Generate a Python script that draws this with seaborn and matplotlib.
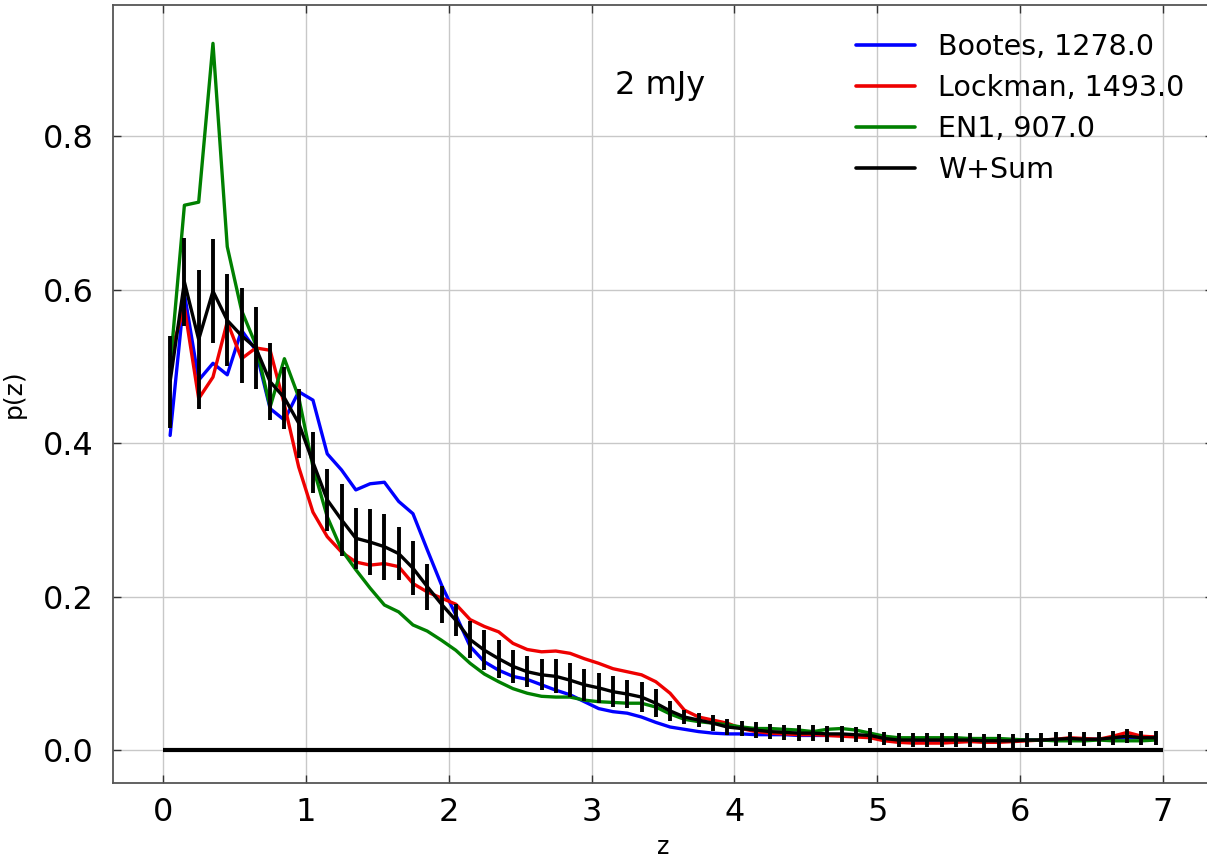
import numpy as np
import pandas as pd
import matplotlib
matplotlib.use("Agg")
import matplotlib.pyplot as plt
import seaborn as sns
from matplotlib.lines import Line2D

# Redshift bin centres (dz = 0.1)
z = np.round(np.arange(0.05, 7.0, 0.1), 2)

bootes = [0.41, 0.595, 0.482, 0.504, 0.489, 0.547, 0.521, 0.445, 0.43, 0.467,
          0.456, 0.386, 0.365, 0.339, 0.347, 0.349, 0.324, 0.308, 0.261, 0.215,
          0.176, 0.135, 0.115, 0.104, 0.096, 0.092, 0.085, 0.078, 0.072, 0.063,
          0.054, 0.050, 0.048, 0.043, 0.036, 0.030, 0.027, 0.024, 0.022, 0.021,
          0.021, 0.020, 0.020, 0.020, 0.019, 0.019, 0.019, 0.019, 0.018, 0.018,
          0.014, 0.013, 0.013, 0.012, 0.012, 0.012, 0.012, 0.012, 0.012, 0.012,
          0.013, 0.013, 0.013, 0.014, 0.014, 0.014, 0.015, 0.016, 0.016, 0.017]

lockman = [0.515, 0.577, 0.458, 0.486, 0.558, 0.51, 0.524, 0.521, 0.45, 0.369,
           0.31, 0.278, 0.258, 0.245, 0.241, 0.243, 0.239, 0.217, 0.206, 0.198,
           0.19, 0.170, 0.161, 0.154, 0.139, 0.131, 0.128, 0.129, 0.126, 0.119,
           0.113, 0.106, 0.102, 0.098, 0.089, 0.074, 0.052, 0.043, 0.039, 0.035,
           0.028, 0.024, 0.022, 0.021, 0.020, 0.020, 0.019, 0.018, 0.017, 0.016,
           0.012, 0.010, 0.009, 0.009, 0.009, 0.010, 0.011, 0.010, 0.010, 0.011,
           0.012, 0.013, 0.014, 0.016, 0.015, 0.014, 0.018, 0.023, 0.018, 0.017]

en1 = [0.499, 0.71, 0.714, 0.921, 0.656, 0.573, 0.528, 0.447, 0.51, 0.46,
       0.369, 0.304, 0.261, 0.235, 0.211, 0.189, 0.18, 0.163, 0.155, 0.143,
       0.13, 0.113, 0.099, 0.089, 0.080, 0.074, 0.070, 0.069, 0.069, 0.065,
       0.063, 0.062, 0.061, 0.061, 0.056, 0.047, 0.040, 0.037, 0.035, 0.033,
       0.030, 0.028, 0.028, 0.027, 0.026, 0.024, 0.027, 0.028, 0.026, 0.022,
       0.018, 0.016, 0.016, 0.016, 0.016, 0.016, 0.015, 0.015, 0.015, 0.014,
       0.013, 0.013, 0.012, 0.012, 0.012, 0.013, 0.012, 0.012, 0.012, 0.013]

wsum = [0.48, 0.61, 0.535, 0.598, 0.56, 0.54, 0.524, 0.48, 0.459, 0.426,
        0.375, 0.326, 0.30, 0.276, 0.271, 0.265, 0.256, 0.237, 0.213, 0.19,
        0.169, 0.144, 0.13, 0.119, 0.109, 0.102, 0.098, 0.096, 0.091, 0.085,
        0.081, 0.076, 0.073, 0.069, 0.061, 0.051, 0.043, 0.039, 0.035, 0.030,
        0.028, 0.026, 0.024, 0.023, 0.022, 0.022, 0.021, 0.021, 0.020, 0.019,
        0.015, 0.013, 0.013, 0.013, 0.013, 0.013, 0.013, 0.012, 0.012, 0.012,
        0.013, 0.013, 0.014, 0.015, 0.014, 0.014, 0.016, 0.018, 0.016, 0.016]

wsum_err = [0.06, 0.057, 0.09, 0.068, 0.06, 0.062, 0.053, 0.05, 0.04, 0.045,
            0.04, 0.04, 0.047, 0.04, 0.043, 0.043, 0.035, 0.035, 0.03, 0.024,
            0.021, 0.024, 0.026, 0.025, 0.022, 0.02, 0.02, 0.022, 0.022, 0.021,
            0.02, 0.02, 0.018, 0.019, 0.018, 0.013, 0.009, 0.009, 0.01, 0.01,
            0.01, 0.01, 0.01, 0.01, 0.01, 0.01, 0.01, 0.01, 0.01, 0.01,
            0.009, 0.009, 0.009, 0.009, 0.009, 0.009, 0.009, 0.009, 0.009, 0.009,
            0.009, 0.009, 0.009, 0.009, 0.009, 0.009, 0.009, 0.009, 0.009, 0.009]

fields = ["Bootes, 1278.0", "Lockman, 1493.0", "EN1, 907.0"]
colors = ["#0000ff", "#ee0000", "#008000"]
z_range = [0.0, 7.0]

df = pd.DataFrame({
    "z": np.concatenate([z, z, z]),
    "p": np.concatenate([bootes, lockman, en1]),
    "field": np.repeat(fields, len(z)),
})

sns.set_theme(style="whitegrid")
plt.rcParams["font.family"] = ["DejaVu Sans"]

fig = plt.figure(figsize=(12.07, 8.58), dpi=100)
ax = fig.add_axes([0.0936, 0.0874, 0.9113, 0.9068])

sns.lineplot(data=df, x="z", y="p", hue="field", hue_order=fields,
             palette=colors, linewidth=2.4, ax=ax, legend=False, sort=False)

ax.errorbar(z, wsum, yerr=wsum_err, color="black", linewidth=2.4,
            elinewidth=2.8, capsize=0, zorder=5)

ax.hlines(0, z_range[0], z_range[1], color="black", linewidth=3, zorder=6)

ax.set_xlim(-0.35, 7.35)
ax.set_ylim(-0.043, 0.971)
ax.set_xticks(range(0, 8))
ax.set_yticks([0.0, 0.2, 0.4, 0.6, 0.8])
ax.set_yticklabels(["0.0", "0.2", "0.4", "0.6", "0.8"])

ax.set_xlabel("z", fontsize=17, labelpad=5, color="black")
ax.set_ylabel("p(z)", fontsize=18, labelpad=12, color="black")

ax.tick_params(axis="both", which="major", direction="in", length=6, width=1,
               labelsize=23, top=True, right=True, bottom=True, left=True,
               color="#333333", labelcolor="black", pad=10)
ax.tick_params(axis="y", pad=14)
ax.grid(True, color="#c8c8c8", linewidth=1.0)
for sp in ax.spines.values():
    sp.set_color("#555555")
    sp.set_linewidth(1.3)

ax.text(0.456, 0.897, "2 mJy", transform=ax.transAxes, fontsize=23,
        ha="left", va="center", color="black")

handles = [Line2D([], [], color=c, linewidth=2.6) for c in colors]
handles.append(Line2D([], [], color="black", linewidth=2.6))
labels = fields + ["W+Sum"]
ax.legend(handles, labels, loc="upper right", frameon=False, fontsize=20.5,
          handlelength=2.1, labelspacing=0.45, borderaxespad=0.6,
          labelcolor="black")

fig.savefig("out.png", dpi=100)
